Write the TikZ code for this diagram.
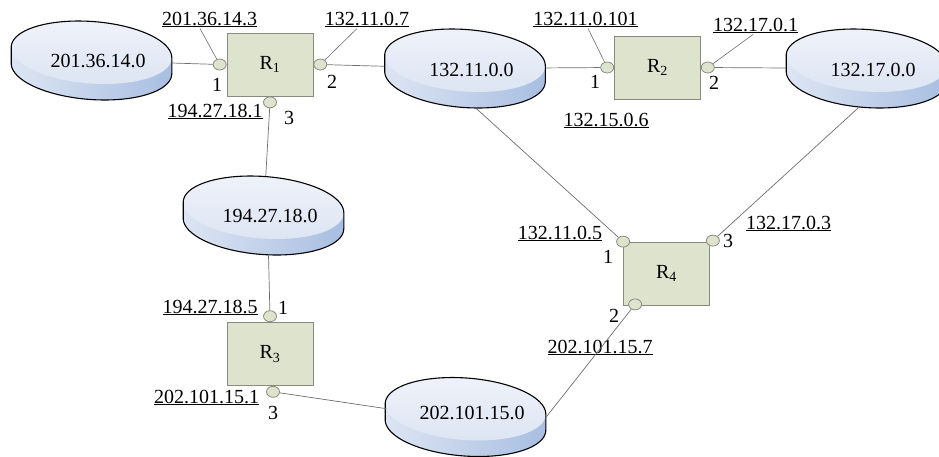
\documentclass[tikz,border=0pt]{standalone}
\usepackage{fontspec}
\setmainfont{Liberation Serif}
\usetikzlibrary{positioning, shapes.geometric, calc}
\definecolor{cdisktop}{HTML}{EEF2FA}
\definecolor{cdiskmid}{HTML}{DDE5F3}
\definecolor{cdiskside}{HTML}{A8BEE1}
\definecolor{cbox}{HTML}{DEE3CE}
\definecolor{cedge}{HTML}{8A8A82}
\definecolor{cline}{HTML}{6E6E6E}
\tikzset{
  every picture/.style={font=\fontsize{20}{24}\selectfont, x=1pt, y=-1pt},
  declare function={ex(\a)=80.5*cos(\a)*cos(4.3)-31*sin(\a)*sin(4.3); ey(\a)=80.5*cos(\a)*sin(4.3)+31*sin(\a)*cos(4.3);},
  router/.style={draw=cedge, fill=cbox, minimum width=86pt, minimum height=63pt, inner sep=0pt, line width=0.8pt},
  port/.style={ellipse, draw=cedge, fill=cbox, minimum width=13pt, minimum height=11pt, inner sep=0pt, line width=0.8pt},
  disk/.style={ellipse, minimum width=161pt, minimum height=79pt, inner sep=0pt},
  addr/.style={anchor=base, inner sep=1pt},
  portno/.style={inner sep=0pt},
  link/.style={draw=cline, line width=0.7pt},
  lead/.style={draw=cline, line width=0.6pt},
  netdisk/.pic={
    \shade[left color=cdiskmid, right color=cdiskside]
      plot[variable=\t, domain=178.34:358.34, samples=50] ({ex(\t)}, {-8+ey(\t)})
      -- plot[variable=\t, domain=-1.66:178.34, samples=50] ({ex(\t)}, {8+ey(\t)}) -- cycle;
    \shade[top color=cdisktop, bottom color=cdiskmid]
      plot[variable=\t, domain=0:360, samples=80] ({ex(\t)}, {-8+ey(\t)}) -- cycle;
    \draw[line width=1.1pt, line join=round]
      plot[variable=\t, domain=178.34:358.34, samples=50] ({ex(\t)}, {-8+ey(\t)})
      -- plot[variable=\t, domain=-1.66:178.34, samples=50] ({ex(\t)}, {8+ey(\t)}) -- cycle;
  },
}

\begin{document}
\begin{tikzpicture}
  \useasboundingbox (0,0) rectangle (939,456);
  % networks
  \foreach \nm/\px/\py/\dy/\txt in {dA/91.5/60.5/-0.5/201.36.14.0, dB/465/68.5/-1/132.11.0.0, dC/263.5/215.5/0/194.27.18.0,
    dD/465.5/417/4.5/202.101.15.0, dE/866.5/68.5/-1/132.17.0.0} {
    \pic at (\px,\py) {netdisk};
    \node[disk, label={[inner sep=0pt, xshift=6.5pt, yshift=\dy pt]center:\txt}] (\nm) at (\px,\py) {};
  }
  % routers and their ports
  \node[router] (r1) at (270,64.5) {R\textsubscript{1}};
  \node[router] (r2) at (657.5,67.5) {R\textsubscript{2}};
  \node[router] (r3) at (270,354) {R\textsubscript{3}};
  \node[router] (r4) at (666.5,273.5) {R\textsubscript{4}};
  \node[port, left=0pt of r1] (p11) {};
  \node[port, right=0pt of r1] (p12) {};
  \node[port, below=0pt of r1] (p13) {};
  \node[port, left=0pt of r2] (p21) {};
  \node[port, right=0pt of r2] (p22) {};
  \node[port, above=0pt of r3] (p31) {};
  \node[port, below=0pt of r3, xshift=3pt] (p33) {};
  \node[port] (p41) at (r4.north west) {};
  \node[port] (p43) at ([xshift=3pt, yshift=1pt]r4.north east) {};
  \node[port] (p42) at ([xshift=12pt, yshift=1pt]r4.south west) {};
  % interface numbers
  \foreach \nm/\px/\py/\txt in {n11/217/85/1, n12/332/82/2, n13/289/118/3, n21/595/82/1, n22/714/83/2,
    n31/283/308/1, n33/273/413/3, n41/608/257/1, n43/728/241/3, n42/614/316/2}
    \node[portno] (\nm) at (\px,\py) {\txt};
  % addresses
  \foreach \nm/\px/\py/\txt in {l11/209.5/25/201.36.14.3, l12/367/25/132.11.0.7, l13/215/117/194.27.18.1,
    l21/585.5/25/132.11.0.101, l22/755.5/31/132.17.0.1, l24/606/126/132.15.0.6,
    l31/210/313/194.27.18.5, l33/206.5/403/202.101.15.1,
    l41/560/239/132.11.0.5, l43/788.5/229/132.17.0.3, l42/600/353/202.101.15.7}
    \node[addr] (\nm) at (\px,\py) {\underline{\txt}};
  % links
  \draw[link] (dA) -- (p11);
  \draw[link] (p12) -- (dB);
  \draw[link] (dB) -- (p21);
  \draw[link] (p22) -- (dE);
  \draw[link] (p13) -- (dC);
  \draw[link] ([xshift=5pt]dC.south) -- (p31);
  \draw[link] (p33) -- (dD.174);
  \draw[link] (dD.east) -- (p42);
  \draw[link] (dB.-75) -- (p41);
  \draw[link] (dE.-102) -- (p43);
  % leaders
  \draw[lead] (p11) -- ([xshift=-9.5pt]l11.south);
  \draw[lead] (p12) -- ([xshift=-10pt]l12.south);
  \draw[lead] (p21) -- ([xshift=2.5pt]l21.south);
  \draw[lead] (p22) -- ([xshift=-2.5pt]l22.south);
\end{tikzpicture}
\end{document}
